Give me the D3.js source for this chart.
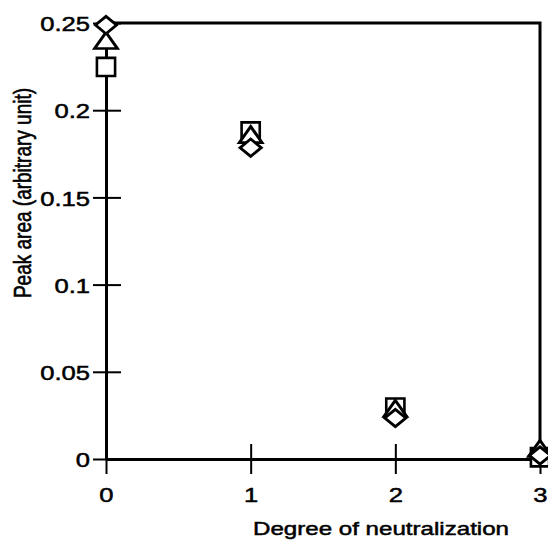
<!DOCTYPE html>
<html>
<head>
<meta charset="utf-8">
<script src="https://cdn.jsdelivr.net/npm/d3@7"></script>
<style>
  body { margin: 0; background: #fff; }
  svg text { font-family: "Liberation Sans", Arial, sans-serif; fill: #000; stroke: #000; stroke-width: 0.5px; }
</style>
</head>
<body>
<div id="chart"></div>
<script>
// degree of neutralization on the x axis
let degrees = [0, 1, 2, 3];
let yTicks = [0, 0.05, 0.1, 0.15, 0.2, 0.25];

// three series
let squareVals = [0.2248, 0.1878, 0.0295, 0.0010];
let triangleVals = [0.2385, 0.1845, 0.0275, 0.0045];
let diamondVals = [0.2488, 0.1785, 0.0235, 0.0020];

let series = [
    { name: "square", values: squareVals },
    { name: "triangle", values: triangleVals },
    { name: "diamond", values: diamondVals }
];

let width = 548, height = 544;
let margin = { left: 106, right: 8, top: 23, bottom: 85 };
// the scanned figure is a bit wider than tall
let stretch = 1.22;

let svg = d3.select("#chart").append("svg")
    .attr("width", width)
    .attr("height", height);

let x = d3.scaleLinear()
    .domain([0, 3])
    .range([margin.left, width - margin.right]);

let y = d3.scaleLinear()
    .domain([0, 0.25])
    .range([height - margin.bottom, margin.top]);

// frame (top and right)
svg.append("path")
    .attr("d", `M${x(0)},${y(0.25)}H${x(3)}V${y(0)}`)
    .attr("fill", "none")
    .attr("stroke", "#000")
    .attr("stroke-width", 3);

let gx = svg.append("g")
    .attr("transform", `translate(0,${y(0)})`)
    .call(d3.axisBottom(x).tickValues(degrees).tickFormat(d3.format("d")).tickSizeOuter(0));

gx.select(".domain").attr("stroke-width", 3);
gx.selectAll(".tick line")
    .attr("y1", -15)
    .attr("y2", 15)
    .attr("stroke-width", 2);
gx.selectAll(".tick text")
    .attr("y", 0)
    .attr("dy", "0.71em")
    .attr("transform", `translate(0,28) scale(${stretch},1)`)
    .style("font-size", "21px");

let gy = svg.append("g")
    .attr("transform", `translate(${x(0)},0)`)
    .call(d3.axisLeft(y).tickValues(yTicks).tickFormat(d => String(+d.toFixed(2))).tickSizeOuter(0));

gy.select(".domain").attr("stroke-width", 3);
gy.selectAll(".tick line")
    .attr("x1", -13)
    .attr("x2", 15)
    .attr("stroke-width", 2);
gy.selectAll(".tick text")
    .attr("x", 0)
    .attr("transform", `translate(-16,1) scale(${stretch},1)`)
    .style("font-size", "21px");

svg.selectAll(".domain").attr("stroke", "#000");
svg.selectAll(".tick line").attr("stroke", "#000");
svg.selectAll(".tick text").attr("fill", "#000").attr("font-family", null);

// axis titles
svg.append("text")
    .attr("transform", `translate(381,535) scale(1.27,1)`)
    .attr("text-anchor", "middle")
    .style("font-size", "19px")
    .text("Degree of neutralization");

svg.append("text")
    .attr("transform", `translate(31,193) rotate(-90) scale(1,${stretch})`)
    .attr("text-anchor", "middle")
    .style("font-size", "19px")
    .text("Peak area (arbitrary unit)");

// markers
let symbols = {
    square: { type: d3.symbolSquare, size: 330, rotate: 0 },
    triangle: { type: d3.symbolTriangle, size: 150, rotate: 0 },
    diamond: { type: d3.symbolSquare, size: 150, rotate: 45 }
};

series.forEach(s => {
    let sym = symbols[s.name];
    let sx = s.name === "square" ? 1 : stretch;
    svg.append("g")
        .selectAll("path")
        .data(s.values.map((v, i) => ({ deg: degrees[i], value: v })))
        .join("path")
        .attr("d", d3.symbol().type(sym.type).size(sym.size))
        .attr("transform", d => `translate(${x(d.deg)},${y(d.value)}) scale(${sx},1) rotate(${sym.rotate})`)
        .attr("fill", "#fff")
        .attr("stroke", "#000")
        .attr("stroke-width", 2.6);
});
</script>
</body>
</html>
